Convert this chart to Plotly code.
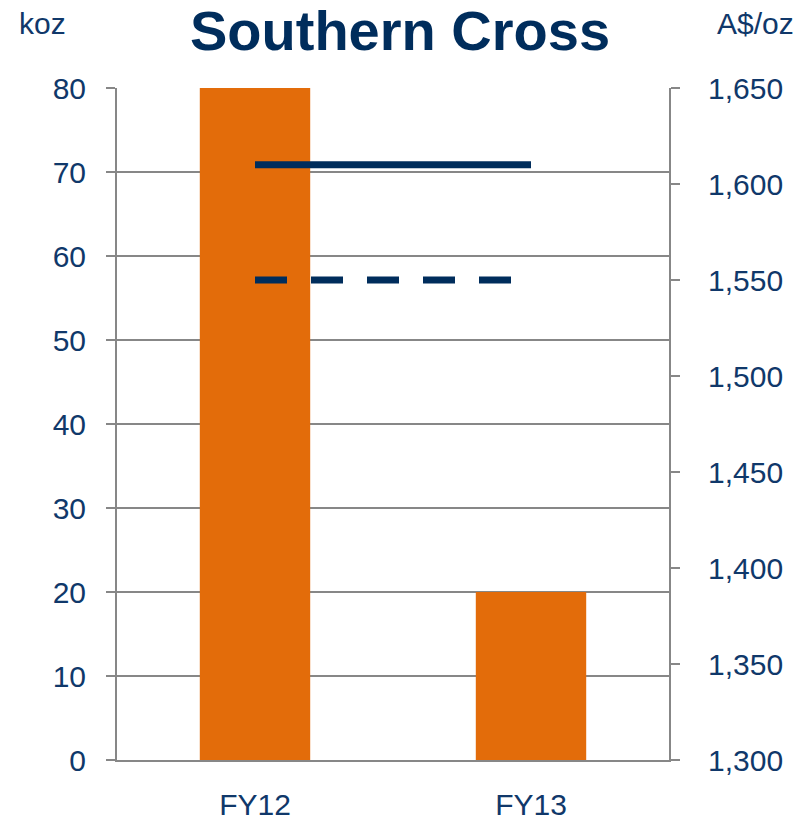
import plotly.graph_objects as go

categories = ["FY12", "FY13"]
production_koz = [80, 20]
price_solid = [1610, 1610]
price_dashed = [1550, 1550]
left_ticks = list(range(0, 81, 10))
right_ticks = list(range(1300, 1651, 50))

ORANGE = "#E36C0A"
NAVY = "#002D5C"
TXT = "#10386A"
GRID = "#878787"
FONT = "Liberation Sans, Arial, sans-serif"

L, R, T, B = 117, 131, 88, 60
W, H = 800, 820

fig = go.Figure()
fig.add_trace(go.Bar(x=categories, y=production_koz, marker=dict(color=ORANGE, line=dict(width=0)),
                     width=0.4, yaxis="y", showlegend=False, hoverinfo="skip"))
fig.add_trace(go.Scatter(x=categories, y=price_solid, mode="lines", yaxis="y2",
                         line=dict(color=NAVY, width=7), showlegend=False, hoverinfo="skip"))
fig.add_trace(go.Scatter(x=categories, y=price_dashed, mode="lines", yaxis="y2",
                         line=dict(color=NAVY, width=7, dash="32px,24px"), showlegend=False,
                         hoverinfo="skip"))

pw = W - L - R
ph = H - T - B

def ann(text, px, py, size=30, color=TXT, bold=False):
    return dict(text=f"<b>{text}</b>" if bold else text,
                x=(px - L) / pw, y=(H - B - py) / ph, xref="paper", yref="paper",
                xanchor="center", yanchor="middle", showarrow=False,
                font=dict(family=FONT, size=size, color=color))

fig.update_layout(
    width=W, height=H,
    margin=dict(l=L, r=R, t=T, b=B, autoexpand=False),
    paper_bgcolor="white", plot_bgcolor="white",
    font=dict(family=FONT, color=TXT, size=30),
    xaxis=dict(type="category", range=[-0.5, 1.5], showline=True, linecolor=GRID, linewidth=2,
               ticks="", showgrid=False, ticklabelstandoff=17, automargin=False,
               tickfont=dict(size=30, color=TXT)),
    yaxis=dict(range=[0, 80], tickvals=left_ticks, showgrid=True, gridcolor=GRID, gridwidth=2,
               showline=True, linecolor=GRID, linewidth=2, ticks="outside", ticklen=9,
               tickcolor=GRID, tickwidth=2, zeroline=False, ticklabelstandoff=14,
               automargin=False, tickfont=dict(size=30, color=TXT)),
    yaxis2=dict(range=[1300, 1650], tickvals=right_ticks, overlaying="y", side="right",
                showgrid=False, showline=True, linecolor=GRID, linewidth=2, ticks="outside",
                ticklen=9, tickcolor=GRID, tickwidth=2, zeroline=False, tickformat=",",
                ticklabelstandoff=22, automargin=False, tickfont=dict(size=30, color=TXT)),
    annotations=[
        ann("Southern Cross", 400, 31, size=56, color=NAVY, bold=True),
        ann("koz", 42, 24),
        ann("A$/oz", 755, 24),
    ],
)

fig.write_html("out.html", config={"displayModeBar": False},
               post_script="document.body.style.margin='0';document.body.style.overflow='hidden';")
